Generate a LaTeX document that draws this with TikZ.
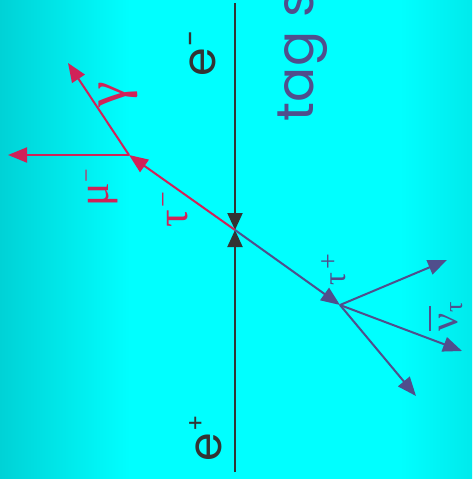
\documentclass[tikz,border=0pt]{standalone}
\usepackage{fontspec}
\setmainfont{Liberation Serif}
\newfontfamily\sansf{Poppins}
\usetikzlibrary{arrows.meta}
\definecolor{bgL}{RGB}{0,210,214}
\definecolor{bgM}{RGB}{0,255,255}
\definecolor{bgR}{RGB}{0,234,236}
\definecolor{tred}{RGB}{208,34,88}
\definecolor{tpur}{RGB}{80,78,140}
\definecolor{tdark}{RGB}{51,51,51}
\begin{document}
\begin{tikzpicture}[x=1pt,y=-1pt,
  lbl/.style={rotate=90,anchor=base west,inner sep=0pt,outer sep=0pt},
  beam/.style={draw=tdark,line width=2pt,-{Triangle[length=17pt,width=15pt]}},
  redarr/.style={draw=tred,line width=2pt,-{Triangle[length=19pt,width=15pt]}},
  purarr/.style={draw=tpur,line width=2pt,-{Triangle[length=19pt,width=15pt]}},
]
\useasboundingbox (0,0) rectangle (472,479);
\shade[left color=bgL,right color=bgM] (0,0) rectangle (130,479);
\fill[bgM] (130,-1) rectangle (400,480);
\shade[left color=bgM,right color=bgR] (400,0) rectangle (472,479);

% points
\coordinate (top) at (235,3);
\coordinate (bot) at (235,472);
\coordinate (v) at (235,230);
\coordinate (dm) at (129,155);
\coordinate (mu) at (8,155);
\coordinate (ga) at (68,63);
\coordinate (dp) at (340,305);
\coordinate (p1) at (447,260);
\coordinate (p2) at (462,351);
\coordinate (p3) at (416,396);

% beams
\draw[beam] (top) -- (v);
\draw[beam] (bot) -- (v);

% tau- side
\draw[redarr] (v) -- (dm);
\draw[redarr] (dm) -- (mu);
\draw[redarr] (dm) -- (ga);

% tau+ side
\draw[purarr] (v) -- (dp);
\draw[purarr] (dp) -- (p1);
\draw[purarr] (dp) -- (p2);
\draw[purarr] (dp) -- (p3);

% labels
\node[lbl,text=tdark,font=\sansf\fontsize{46}{50}\selectfont] (em) at (215,76)
  {e\kern1pt\raisebox{14pt}{\fontsize{30}{30}\selectfont -}};
\node[lbl,text=tdark,font=\sansf\fontsize{46}{50}\selectfont] (ep) at (221,461)
  {e\kern1pt\raisebox{17pt}{\fontsize{24}{24}\selectfont +}};
\node[lbl,text=tred,font=\fontsize{44}{48}\selectfont] (taum) at (187,227)
  {τ\kern2pt\raisebox{15pt}{\fontsize{28}{28}\selectfont −}};
\node[lbl,text=tred,font=\fontsize{44}{48}\selectfont] (mum) at (108,206)
  {μ\raisebox{14pt}{\fontsize{24}{24}\selectfont −}};
\node[lbl,text=tred,font=\fontsize{58}{60}\selectfont] (gam) at (125,107) {γ};
\node[lbl,text=tpur,font=\fontsize{32}{34}\selectfont] (taup) at (345,285)
  {τ\kern3pt\raisebox{8pt}{\fontsize{28}{28}\selectfont +}};
\node[lbl,text=tpur,font=\fontsize{40}{44}\selectfont] (nub) at (457,331)
  {\rlap{\rule[26pt]{25pt}{2pt}}ν\raisebox{-5pt}{\fontsize{26}{26}\selectfont τ}};
\node[lbl,text=tpur,font=\sansf\fontsize{52}{56}\selectfont] (tag) at (313,121) {tag s};
\end{tikzpicture}
\end{document}
